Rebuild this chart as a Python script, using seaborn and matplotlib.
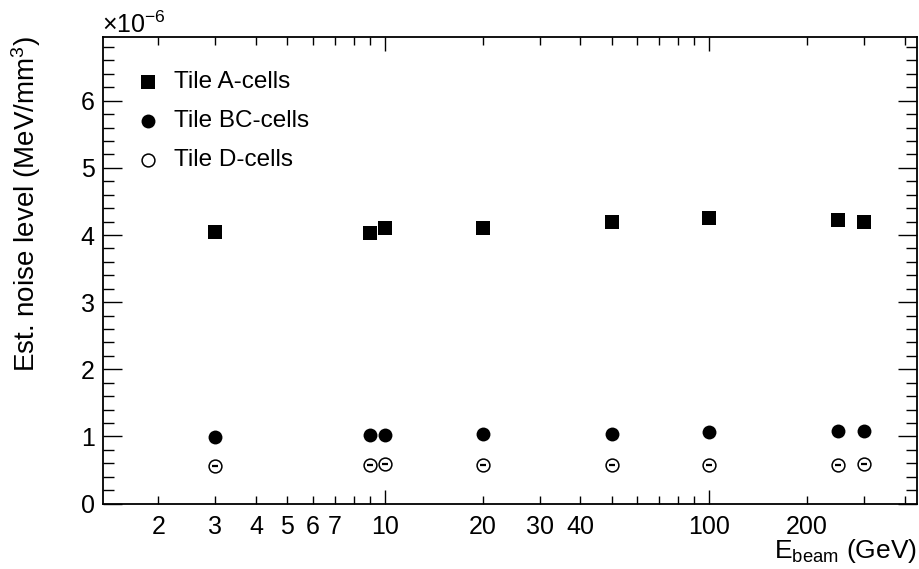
import matplotlib
matplotlib.use("Agg")
import matplotlib.pyplot as plt
from matplotlib.ticker import FixedLocator, MultipleLocator, AutoMinorLocator
import seaborn as sns

# beam energies (GeV) and estimated noise levels (x 1e-6 MeV/mm^3)
energy = [3, 9, 10, 20, 50, 100, 250, 300]
a_cells = [4.05, 4.025, 4.11, 4.11, 4.19, 4.25, 4.23, 4.20]
bc_cells = [0.99, 1.015, 1.015, 1.035, 1.04, 1.06, 1.08, 1.08]
d_cells = [0.565, 0.58, 0.585, 0.58, 0.58, 0.58, 0.58, 0.59]

major_x = [10, 100]
minor_x = [2, 3, 4, 5, 6, 7, 8, 9, 20, 30, 40, 50, 60, 70, 80, 90, 200, 300, 400]
minor_x_labels = ["2", "3", "4", "5", "6", "7", "", "", "20", "30", "40",
                  "", "", "", "", "", "200", "", ""]

sns.set_theme(style="ticks")
plt.rcParams["font.family"] = ["Liberation Sans", "DejaVu Sans"]
plt.rcParams["mathtext.fontset"] = "custom"
plt.rcParams["mathtext.rm"] = "Liberation Sans"
plt.rcParams["mathtext.it"] = "Liberation Sans"
plt.rcParams["text.color"] = "black"

fig = plt.figure(figsize=(9.2, 5.69), dpi=100)
ax = fig.add_axes([0.112, 0.115, 0.8847, 0.82])

sns.scatterplot(x=energy, y=a_cells, marker="s", s=90, color="black",
                linewidth=0, label="Tile A-cells", ax=ax)
sns.scatterplot(x=energy, y=bc_cells, marker="o", s=100, color="black",
                linewidth=0, label="Tile BC-cells", ax=ax)
sns.scatterplot(x=energy, y=d_cells, marker="o", s=85, facecolor="white",
                edgecolor="black", linewidth=1.1, label="Tile D-cells", ax=ax)
# tiny error marks inside the open circles
ax.scatter(energy, d_cells, marker="_", s=14, color="black", linewidth=1.6)

ax.set_xscale("log")
ax.set_xlim(1.35, 437)
ax.set_ylim(0, 6.95)

ax.xaxis.set_major_locator(FixedLocator(major_x))
ax.set_xticklabels(["10", "100"])
ax.set_xticks(minor_x, minor=True)
ax.set_xticklabels(minor_x_labels, minor=True)

ax.yaxis.set_major_locator(MultipleLocator(1))
ax.yaxis.set_minor_locator(AutoMinorLocator(5))

ax.tick_params(which="both", direction="in", top=True, right=True,
               labelsize=18, color="black", labelcolor="black", width=1.0)
ax.tick_params(axis="x", which="major", length=10, pad=8)
ax.tick_params(axis="x", which="minor", length=5.5, pad=8)
ax.tick_params(axis="y", which="major", length=14, pad=6)
ax.tick_params(axis="y", which="minor", length=8)

for sp in ax.spines.values():
    sp.set_linewidth(1.3)
    sp.set_color("black")

ax.set_xlabel("")
ax.set_ylabel("")
fig.text(0.028, 0.937, "Est. noise level (MeV/mm$^{3}$)", rotation=90,
         ha="center", va="top", fontsize=20)
fig.text(0.9967, 1 - 558 / 569, "E$_{\\mathrm{beam}}$ (GeV)", ha="right",
         va="baseline", fontsize=19)
fig.text(0.111, 1 - 33 / 569, "\u00d710$^{-6}$", ha="left", va="baseline",
         fontsize=18)

ax.legend(loc="upper left", bbox_to_anchor=(136 / 920, 1 - 71 / 569),
          bbox_transform=fig.transFigure, frameon=False, fontsize=17.5,
          labelspacing=0.7, handlelength=1.0, handletextpad=0.57,
          borderpad=0, borderaxespad=0)

fig.savefig("out.png", dpi=100)
